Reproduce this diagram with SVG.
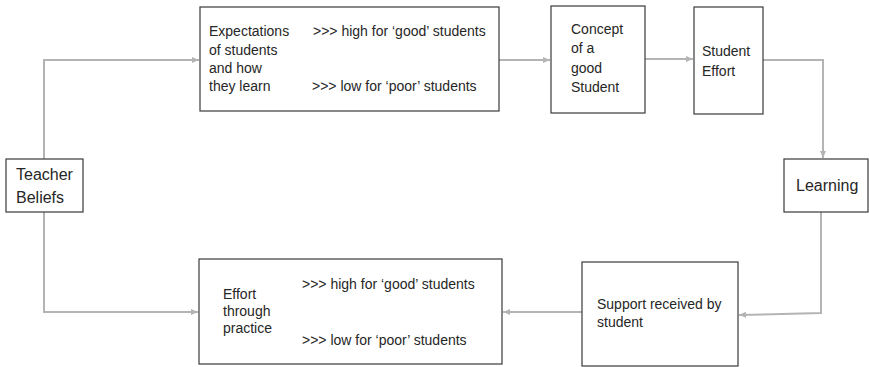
<svg xmlns="http://www.w3.org/2000/svg" width="869" height="367" viewBox="0 0 869 367">
<style>
.box{fill:#fff;stroke:#3a3a3a;stroke-width:1.2}
.t{font-family:"Liberation Sans",Arial,sans-serif;font-size:14px;fill:#262626}
.tl{font-family:"Liberation Sans",Arial,sans-serif;font-size:16px;fill:#262626}
.c{fill:none;stroke:#b4b4b4;stroke-width:2;marker-end:url(#ah)}
</style>
<defs>
<marker id="ah" markerUnits="userSpaceOnUse" markerWidth="8" markerHeight="8" refX="7" refY="4" orient="auto">
<path d="M0,1 L7,4 L0,7 Z" fill="#b4b4b4"/>
</marker>
</defs>
<g id="connectors">
<path class="c" d="M44,159 V60 H199"/>
<path class="c" d="M44,212 V312 H198"/>
<path class="c" d="M499,60 H550"/>
<path class="c" d="M645,59 H693"/>
<path class="c" d="M763,60 H823 V158"/>
<path class="c" d="M821,212 V313 L739,315"/>
<path class="c" d="M582,312 H503"/>
</g>
<g id="teacher-beliefs">
<rect class="box" x="6" y="159" width="77" height="53"/>
<text class="tl" x="16" y="180">Teacher</text>
<text class="tl" x="16" y="203">Beliefs</text>
</g>
<g id="expectations">
<rect class="box" x="200" y="7" width="299" height="104"/>
<text class="t" x="209" y="36">Expectations</text>
<text class="t" x="209" y="54.5">of students</text>
<text class="t" x="209" y="73">and how</text>
<text class="t" x="209" y="91">they learn</text>
<text class="t" x="313" y="36">&gt;&gt;&gt; high for ‘good’ students</text>
<text class="t" x="312" y="91">&gt;&gt;&gt; low for ‘poor’ students</text>
</g>
<g id="concept">
<rect class="box" x="551" y="6" width="94" height="107"/>
<text class="t" x="571" y="34">Concept</text>
<text class="t" x="571" y="53">of a</text>
<text class="t" x="571" y="72.5">good</text>
<text class="t" x="571" y="92">Student</text>
</g>
<g id="student-effort">
<rect class="box" x="694" y="7" width="69" height="107"/>
<text class="t" x="702" y="56">Student</text>
<text class="t" x="702" y="76">Effort</text>
</g>
<g id="learning">
<rect class="box" x="784" y="159" width="84" height="53"/>
<text class="tl" x="796" y="191">Learning</text>
</g>
<g id="support">
<rect class="box" x="582" y="262" width="156" height="104"/>
<text class="t" x="597" y="309">Support received by</text>
<text class="t" x="597" y="327">student</text>
</g>
<g id="effort-practice">
<rect class="box" x="199" y="259" width="303" height="105"/>
<text class="t" x="223" y="299">Effort</text>
<text class="t" x="223" y="316">through</text>
<text class="t" x="223" y="333">practice</text>
<text class="t" x="302" y="289">&gt;&gt;&gt; high for ‘good’ students</text>
<text class="t" x="302" y="345">&gt;&gt;&gt; low for ‘poor’ students</text>
</g>
</svg>
